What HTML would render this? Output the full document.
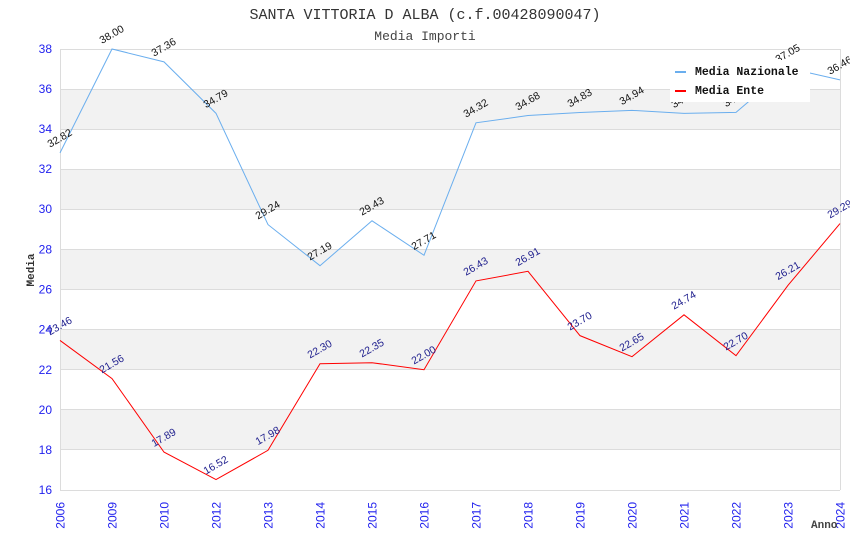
<!DOCTYPE html>
<html><head><meta charset="utf-8"><style>
html,body{margin:0;padding:0;background:#fff;}
svg{display:block;}
</style></head><body>
<svg width="850" height="550" viewBox="0 0 850 550" xmlns="http://www.w3.org/2000/svg">
<rect x="0" y="0" width="850" height="550" fill="#fff"/>
<!-- bands -->
<g fill="#f2f2f2">
<rect x="60" y="89.1" width="780" height="40.1"/>
<rect x="60" y="169.3" width="780" height="40.1"/>
<rect x="60" y="249.5" width="780" height="40"/>
<rect x="60" y="329.6" width="780" height="40.1"/>
<rect x="60" y="409.8" width="780" height="40.1"/>
</g>
<g stroke="#dcdcdc" stroke-width="1" shape-rendering="crispEdges">
<line x1="60" y1="49.5" x2="840" y2="49.5"/>
<line x1="60" y1="89.5" x2="840" y2="89.5"/>
<line x1="60" y1="129.5" x2="840" y2="129.5"/>
<line x1="60" y1="169.5" x2="840" y2="169.5"/>
<line x1="60" y1="209.5" x2="840" y2="209.5"/>
<line x1="60" y1="249.5" x2="840" y2="249.5"/>
<line x1="60" y1="289.5" x2="840" y2="289.5"/>
<line x1="60" y1="329.5" x2="840" y2="329.5"/>
<line x1="60" y1="369.5" x2="840" y2="369.5"/>
<line x1="60" y1="409.5" x2="840" y2="409.5"/>
<line x1="60" y1="449.5" x2="840" y2="449.5"/>
<line x1="60" y1="490.5" x2="840" y2="490.5"/>
<line x1="60.5" y1="49" x2="60.5" y2="490"/>
<line x1="840.5" y1="49" x2="840.5" y2="490"/>
</g>
<!-- titles -->
<text x="425" y="19" text-anchor="middle" font-family="Liberation Mono, monospace" font-size="15" fill="#333">SANTA VITTORIA D ALBA (c.f.00428090047)</text>
<text x="425" y="40" text-anchor="middle" font-family="Liberation Mono, monospace" font-size="13" fill="#444">Media Importi</text>
<!-- y ticks -->
<g font-family="Liberation Sans, sans-serif" font-size="12" fill="#2222ee" text-anchor="end">
<text x="52" y="53">38</text>
<text x="52" y="93">36</text>
<text x="52" y="133">34</text>
<text x="52" y="173">32</text>
<text x="52" y="213">30</text>
<text x="52" y="253.5">28</text>
<text x="52" y="293.5">26</text>
<text x="52" y="333.5">24</text>
<text x="52" y="374">22</text>
<text x="52" y="414">20</text>
<text x="52" y="454">18</text>
<text x="52" y="494">16</text>
</g>
<!-- x ticks -->
<g font-family="Liberation Sans, sans-serif" font-size="12" fill="#2222ee" text-anchor="end">
<text transform="translate(64.5,502) rotate(-90)">2006</text>
<text transform="translate(116.5,502) rotate(-90)">2009</text>
<text transform="translate(168.5,502) rotate(-90)">2010</text>
<text transform="translate(220.5,502) rotate(-90)">2012</text>
<text transform="translate(272.5,502) rotate(-90)">2013</text>
<text transform="translate(324.5,502) rotate(-90)">2014</text>
<text transform="translate(376.5,502) rotate(-90)">2015</text>
<text transform="translate(428.5,502) rotate(-90)">2016</text>
<text transform="translate(480.5,502) rotate(-90)">2017</text>
<text transform="translate(532.5,502) rotate(-90)">2018</text>
<text transform="translate(584.5,502) rotate(-90)">2019</text>
<text transform="translate(636.5,502) rotate(-90)">2020</text>
<text transform="translate(688.5,502) rotate(-90)">2021</text>
<text transform="translate(740.5,502) rotate(-90)">2022</text>
<text transform="translate(792.5,502) rotate(-90)">2023</text>
<text transform="translate(844.5,502) rotate(-90)">2024</text>
</g>
<!-- axis titles -->
<text transform="translate(34,270) rotate(-90)" text-anchor="middle" font-family="Liberation Mono, monospace" font-weight="bold" font-size="11" fill="#333">Media</text>
<text x="811" y="528" font-family="Liberation Mono, monospace" font-weight="bold" font-size="11" fill="#444">Anno</text>
<!-- series -->
<polyline fill="none" stroke="#6aaeee" stroke-width="1" points="60,152.84 112,49 164,61.84 216,113.35 268,224.6 320,265.7 372,220.8 424,255.27 476,122.78 528,115.56 580,112.55 632,110.35 684,113.35 736,112.35 788,68.05 840,79.88"/>
<polyline fill="none" stroke="#ff0000" stroke-width="1" points="60,340.46 112,378.55 164,452.11 216,479.58 268,450.31 320,363.72 372,362.71 424,369.73 476,280.93 528,271.31 580,335.65 632,356.7 684,314.81 736,355.7 788,285.34 840,223.6"/>
<!-- labels nazionale -->
<g font-family="Liberation Sans, sans-serif" font-size="10.5" fill="#111" text-anchor="middle" dominant-baseline="middle">
<text transform="translate(60,138.8) rotate(-30)">32.82</text>
<text transform="translate(112,35) rotate(-30)">38.00</text>
<text transform="translate(164,47.8) rotate(-30)">37.36</text>
<text transform="translate(216,99.3) rotate(-30)">34.79</text>
<text transform="translate(268,210.6) rotate(-30)">29.24</text>
<text transform="translate(320,251.7) rotate(-30)">27.19</text>
<text transform="translate(372,206.8) rotate(-30)">29.43</text>
<text transform="translate(424,241.3) rotate(-30)">27.71</text>
<text transform="translate(476,108.8) rotate(-30)">34.32</text>
<text transform="translate(528,101.6) rotate(-30)">34.68</text>
<text transform="translate(580,98.5) rotate(-30)">34.83</text>
<text transform="translate(632,96.3) rotate(-30)">34.94</text>
<text transform="translate(684,99.3) rotate(-30)">34.79</text>
<text transform="translate(736,98.3) rotate(-30)">34.84</text>
<text transform="translate(788,54) rotate(-30)">37.05</text>
<text transform="translate(840,65.9) rotate(-30)">36.46</text>
</g>
<!-- labels ente -->
<g font-family="Liberation Sans, sans-serif" font-size="10.5" fill="#1c1c8c" text-anchor="middle" dominant-baseline="middle">
<text transform="translate(60,326.5) rotate(-30)">23.46</text>
<text transform="translate(112,364.5) rotate(-30)">21.56</text>
<text transform="translate(164,438.1) rotate(-30)">17.89</text>
<text transform="translate(216,465.6) rotate(-30)">16.52</text>
<text transform="translate(268,436.3) rotate(-30)">17.98</text>
<text transform="translate(320,349.7) rotate(-30)">22.30</text>
<text transform="translate(372,348.7) rotate(-30)">22.35</text>
<text transform="translate(424,355.7) rotate(-30)">22.00</text>
<text transform="translate(476,266.9) rotate(-30)">26.43</text>
<text transform="translate(528,257.3) rotate(-30)">26.91</text>
<text transform="translate(580,321.6) rotate(-30)">23.70</text>
<text transform="translate(632,342.7) rotate(-30)">22.65</text>
<text transform="translate(684,300.8) rotate(-30)">24.74</text>
<text transform="translate(736,341.7) rotate(-30)">22.70</text>
<text transform="translate(788,271.3) rotate(-30)">26.21</text>
<text transform="translate(840,209.6) rotate(-30)">29.29</text>
</g>
<!-- legend -->
<rect x="670" y="60" width="140" height="42" fill="#fff"/>
<rect x="675" y="71" width="11" height="2" fill="#6aaeee"/>
<rect x="675" y="90" width="11" height="2" fill="#ff0000"/>
<g font-family="Liberation Mono, monospace" font-weight="bold" font-size="11.5" fill="#111">
<text x="695" y="75">Media Nazionale</text>
<text x="695" y="94">Media Ente</text>
</g>
</svg>
</body></html>
